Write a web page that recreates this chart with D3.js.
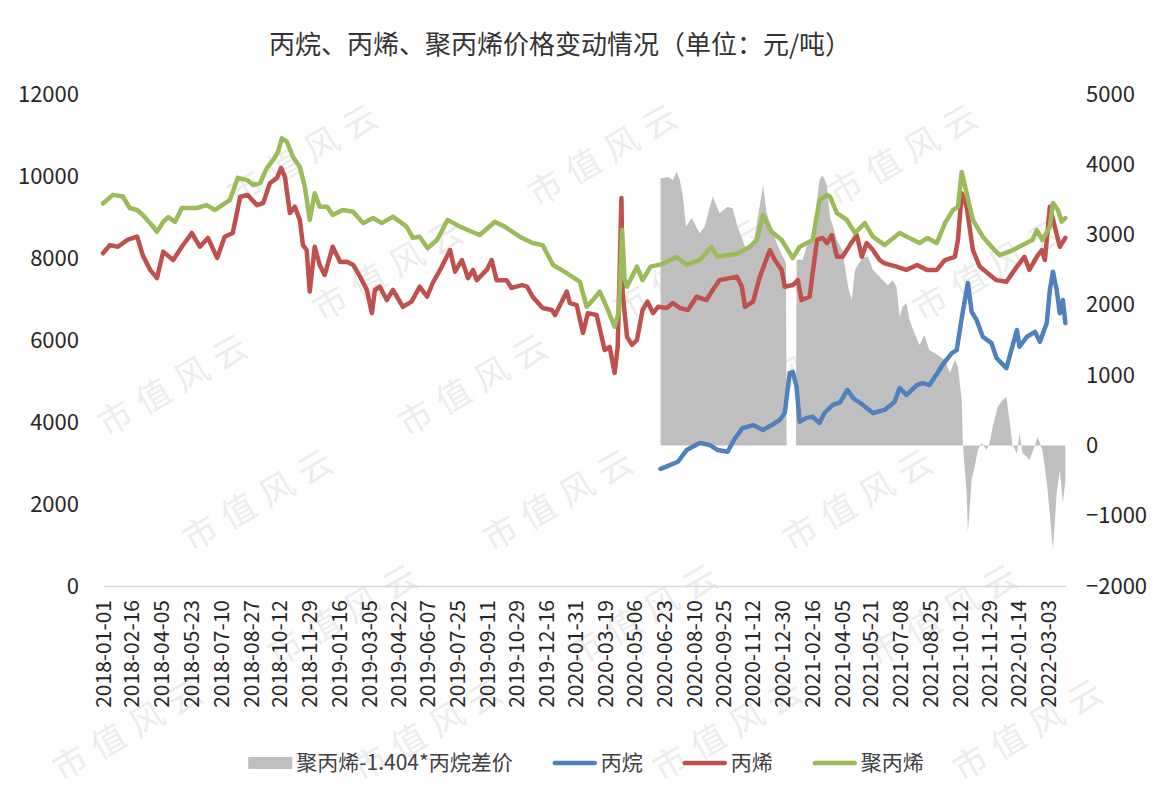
<!DOCTYPE html>
<html>
<head>
<meta charset="utf-8">
<script src="https://cdn.jsdelivr.net/npm/d3@7"></script>
<style>
body { margin: 0; background: #fff; }
text { font-family: "Noto Sans CJK SC", "Noto Sans", sans-serif; }
</style>
</head>
<body>
<svg id="chart" width="1166" height="798"></svg>
<script>
// x axis labels
var tickDates = ["2018-01-01","2018-02-16","2018-04-05","2018-05-23","2018-07-10","2018-08-27","2018-10-12","2018-11-29",
	"2019-01-16","2019-03-05","2019-04-22","2019-06-07","2019-07-25","2019-09-11","2019-10-29","2019-12-16",
	"2020-01-31","2020-03-19","2020-05-06","2020-06-23","2020-08-10","2020-09-25","2020-11-12","2020-12-30",
	"2021-02-16","2021-04-05","2021-05-21","2021-07-08","2021-08-25","2021-10-12","2021-11-29",
	"2022-01-14","2022-03-03"];

// 丙烷 (left axis)
var propane = [["2020-06-17",2855],["2020-07-02",2950],["2020-07-15",3030],["2020-07-29",3315],["2020-08-19",3490],
	["2020-09-04",3440],["2020-09-17",3315],["2020-10-03",3275],["2020-10-15",3610],["2020-10-27",3850],["2020-11-13",3925],
	["2020-11-29",3805],["2020-12-13",3925],["2020-12-26",4050],["2021-01-03",4220],["2021-01-11",5195],["2021-01-16",5225],
	["2021-01-22",4860],["2021-01-27",4005],["2021-02-07",4100],["2021-02-17",4125],["2021-02-28",3975],["2021-03-08",4220],
	["2021-03-21",4415],["2021-04-02",4480],["2021-04-14",4780],["2021-04-23",4585],["2021-05-09",4415],["2021-05-25",4220],
	["2021-06-13",4295],["2021-06-29",4495],["2021-07-07",4830],["2021-07-18",4660],["2021-08-04",4900],["2021-08-13",4950],
	["2021-08-24",4900],["2021-09-05",5170],["2021-09-14",5390],["2021-09-29",5680],["2021-10-07",5755],["2021-10-15",6535],
	["2021-10-25",7390],["2021-10-31",6690],["2021-11-08",6490],["2021-11-18",6080],["2021-12-02",5925],["2021-12-10",5560],
	["2021-12-26",5315],["2022-01-03",5755],["2022-01-12",6245],["2022-01-16",5835],["2022-01-28",6080],["2022-02-10",6200],
	["2022-02-18",5960],["2022-03-01",6415],["2022-03-06",7220],["2022-03-11",7665],["2022-03-17",7220],["2022-03-22",6655],
	["2022-03-27",6975],["2022-03-31",6415]];

// 丙烯 (left axis)
var propylene = [["2018-01-01",8115],["2018-01-12",8315],["2018-01-25",8275],["2018-02-09",8440],["2018-02-25",8520],
	["2018-03-06",8070],["2018-03-18",7710],["2018-03-29",7510],["2018-04-08",8155],["2018-04-24",7950],["2018-05-08",8275],
	["2018-05-24",8610],["2018-06-06",8275],["2018-06-19",8490],["2018-07-04",8000],["2018-07-16",8520],["2018-07-29",8610],
	["2018-08-10",9495],["2018-08-22",9536],["2018-09-06",9290],["2018-09-16",9340],["2018-09-27",9830],["2018-10-08",9950],
	["2018-10-15",10195],["2018-10-21",9980],["2018-10-29",9095],["2018-11-06",9250],["2018-11-14",8930],["2018-11-19",8315],
	["2018-11-25",8195],["2018-11-30",7180],["2018-12-08",8275],["2018-12-16",7830],["2018-12-24",7585],["2019-01-06",8275],
	["2019-01-18",7900],["2019-01-29",7910],["2019-02-08",7830],["2019-02-19",7545],["2019-03-02",7220],["2019-03-10",6655],
	["2019-03-15",7220],["2019-03-23",7300],["2019-04-03",6975],["2019-04-13",7220],["2019-04-29",6810],["2019-05-13",6935],
	["2019-05-26",7300],["2019-06-07",7055],["2019-06-16",7390],["2019-06-28",7710],["2019-07-14",8195],["2019-07-22",7665],
	["2019-08-02",7950],["2019-08-12",7510],["2019-08-20",7710],["2019-08-26",7460],["2019-09-11",7710],["2019-09-19",7950],
	["2019-09-27",7460],["2019-10-13",7460],["2019-10-21",7270],["2019-11-07",7340],["2019-11-15",7300],["2019-11-24",7055],
	["2019-12-10",6780],["2019-12-25",6730],["2019-12-30",6610],["2020-01-07",6850],["2020-01-18",7180],["2020-01-23",6900],
	["2020-02-03",6850],["2020-02-13",6170],["2020-02-21",6655],["2020-03-06",6610],["2020-03-19",5755],["2020-03-27",5835],
	["2020-04-04",5195],["2020-04-09",5835],["2020-04-15",9465],["2020-04-17",7140],["2020-04-24",6080],["2020-05-02",5880],
	["2020-05-10",6000],["2020-05-19",6730],["2020-05-27",6935],["2020-06-05",6655],["2020-06-13",6810],["2020-06-27",6780],
	["2020-07-07",6900],["2020-07-18",6780],["2020-07-31",6730],["2020-08-14",7055],["2020-08-30",6975],["2020-09-09",7220],
	["2020-09-20",7460],["2020-10-18",7545],["2020-10-26",7300],["2020-10-31",6810],["2020-11-13",6935],["2020-11-24",7545],
	["2020-12-10",8195],["2020-12-18",7950],["2020-12-29",7710],["2021-01-03",7300],["2021-01-16",7340],["2021-01-24",7460],
	["2021-01-30",6975],["2021-02-12",7055],["2021-02-24",8440],["2021-03-05",8490],["2021-03-12",8365],["2021-03-20",8560],
	["2021-03-28",8030],["2021-04-06",8030],["2021-04-18",8315],["2021-04-29",8560],["2021-05-07",8030],["2021-05-15",8365],
	["2021-05-25",8195],["2021-06-05",7950],["2021-06-13",7870],["2021-07-02",7790],["2021-07-18",7710],["2021-08-04",7830],
	["2021-08-20",7710],["2021-09-05",7710],["2021-09-18",7950],["2021-10-04",8030],["2021-10-09",8440],["2021-10-15",9580],
	["2021-10-23",9250],["2021-11-02",8195],["2021-11-13",7790],["2021-11-26",7630],["2021-12-10",7460],["2021-12-26",7420],
	["2022-01-12",7790],["2022-01-24",8030],["2022-02-01",7710],["2022-02-13",8030],["2022-02-21",8195],["2022-02-26",7950],
	["2022-03-06",9250],["2022-03-12",8885],["2022-03-22",8275],["2022-03-31",8490]];

// 聚丙烯 (left axis)
var polypropylene = [["2018-01-01",9330],["2018-01-17",9540],["2018-02-02",9500],["2018-02-13",9220],["2018-02-25",9170],
	["2018-03-06",9050],["2018-03-18",8850],["2018-03-29",8640],["2018-04-08",8880],["2018-04-16",9000],["2018-04-27",8880],
	["2018-05-08",9220],["2018-06-01",9220],["2018-06-17",9290],["2018-06-30",9170],["2018-07-12",9290],["2018-07-24",9410],
	["2018-08-06",9950],["2018-08-21",9900],["2018-08-31",9780],["2018-09-11",9830],["2018-09-22",10200],["2018-10-02",10390],
	["2018-10-10",10590],["2018-10-16",10920],["2018-10-24",10840],["2018-11-03",10470],["2018-11-14",10220],["2018-11-22",9740],
	["2018-11-30",8930],["2018-12-08",9580],["2018-12-16",9250],["2018-12-28",9250],["2019-01-06",9050],["2019-01-22",9170],
	["2019-02-08",9130],["2019-02-24",8850],["2019-03-12",8975],["2019-03-26",8850],["2019-04-13",9010],["2019-05-05",8765],
	["2019-05-15",8490],["2019-05-26",8520],["2019-06-08",8240],["2019-06-23",8440],["2019-07-10",8930],["2019-07-30",8765],
	["2019-08-18",8640],["2019-08-31",8560],["2019-09-24",8885],["2019-10-10",8765],["2019-11-03",8520],["2019-11-24",8365],
	["2019-12-10",8315],["2019-12-27",7830],["2020-01-18",7630],["2020-02-08",7420],["2020-02-19",6810],["2020-02-29",6975],
	["2020-03-11",7180],["2020-03-22",6810],["2020-04-04",6325],["2020-04-11",6700],["2020-04-16",8680],["2020-04-20",7500],
	["2020-04-24",7300],["2020-05-10",7790],["2020-05-19",7460],["2020-06-01",7790],["2020-06-19",7850],["2020-07-13",8030],
	["2020-07-29",7830],["2020-08-19",7950],["2020-09-07",8275],["2020-09-16",8030],["2020-10-18",8100],["2020-11-08",8275],
	["2020-11-19",8440],["2020-11-29",9050],["2020-12-13",8640],["2020-12-29",8440],["2021-01-16",8000],["2021-01-27",8275],
	["2021-02-17",8440],["2021-02-28",9410],["2021-03-12",9536],["2021-03-17",9495],["2021-03-28",9095],["2021-04-13",8930],
	["2021-04-26",8610],["2021-05-12",8850],["2021-05-25",8520],["2021-06-13",8315],["2021-07-07",8610],["2021-07-23",8490],
	["2021-08-08",8365],["2021-08-21",8490],["2021-09-05",8365],["2021-09-18",8850],["2021-10-01",9170],["2021-10-09",9250],
	["2021-10-15",10100],["2021-10-23",9580],["2021-11-02",8930],["2021-11-18",8520],["2021-12-04",8240],["2021-12-15",8070],
	["2021-12-31",8155],["2022-01-21",8315],["2022-02-06",8440],["2022-02-13",8680],["2022-02-22",8440],["2022-03-06",8765],
	["2022-03-11",9340],["2022-03-19",9170],["2022-03-25",8885],["2022-03-31",8975]];

// 聚丙烯-1.404*丙烷差价 (right axis)
var spread = [["2020-06-17",3800],["2020-06-29",3820],["2020-07-07",3775],["2020-07-13",3895],["2020-07-18",3775],
	["2020-07-23",3540],["2020-07-28",3110],["2020-08-06",3235],["2020-08-19",3020],["2020-08-27",3110],["2020-09-09",3540],
	["2020-09-20",3305],["2020-10-03",3395],["2020-10-11",3375],["2020-10-19",3110],["2020-10-31",2825],["2020-11-13",2825],
	["2020-11-29",3700],["2020-12-05",3305],["2020-12-21",2880],["2020-12-31",2685],["2021-01-05",2600],["2021-01-06",0],
	["2021-01-21",0],["2021-01-22",2640],["2021-02-01",2640],["2021-02-07",2825],["2021-02-17",2970],["2021-02-28",3775],
	["2021-03-05",3845],["2021-03-12",3700],["2021-03-17",3235],["2021-03-22",3110],["2021-03-28",2920],["2021-04-06",2780],
	["2021-04-15",2255],["2021-04-21",2070],["2021-04-26",2495],["2021-05-09",2685],["2021-05-17",2685],["2021-05-25",2495],
	["2021-06-05",2400],["2021-06-18",2280],["2021-06-26",2350],["2021-07-02",2255],["2021-07-07",1830],["2021-07-12",1975],
	["2021-07-18",2025],["2021-07-23",1785],["2021-07-31",1600],["2021-08-08",1430],["2021-08-16",1570],["2021-08-24",1355],
	["2021-09-02",1310],["2021-09-10",1260],["2021-09-18",1215],["2021-09-26",1030],["2021-10-04",1215],["2021-10-09",1120],
	["2021-10-15",645],["2021-10-17",0],["2021-10-23",-680],["2021-10-25",-1250],["2021-10-31",-490],["2021-11-05",-300],
	["2021-11-10",-65],["2021-11-16",35],["2021-11-24",-65],["2021-11-29",35],["2021-12-04",265],["2021-12-12",550],
	["2021-12-20",645],["2021-12-26",690],["2021-12-31",360],["2022-01-05",0],["2022-01-12",-110],["2022-01-16",175],
	["2022-01-21",-110],["2022-01-28",-160],["2022-02-01",-210],["2022-02-10",0],["2022-02-14",125],["2022-02-22",-65],
	["2022-03-02",-590],["2022-03-11",-1480],["2022-03-17",-680],["2022-03-22",-350],["2022-03-27",-820],["2022-03-31",-500]];

var leftTicks = [0, 2000, 4000, 6000, 8000, 10000, 12000];
var rightTicks = [-2000, -1000, 0, 1000, 2000, 3000, 4000, 5000];

// margins
var margin = { top: 94, right: 100, bottom: 212, left: 103 },
		width = 1166 - margin.left - margin.right,
		height = 798 - margin.top - margin.bottom;

var parse = d3.utcParse("%Y-%m-%d");
function rows(arr){ return arr.map(function(d){ return { date: parse(d[0]), v: d[1] }; }); }

var xScale = d3.scaleUtc().domain([parse("2018-01-01"), parse("2022-04-01")]).range([0, width]);
var yLeft = d3.scaleLinear().domain([0, 12000]).range([height, 0]);
var yRight = d3.scaleLinear().domain([-2000, 5000]).range([height, 0]);

var svg = d3.select("#chart");
svg.append("rect").attr("width", 1166).attr("height", 798).attr("fill", "#fff");

// watermark (under the marks, very faint)
var marks = svg.append("g").attr("pointer-events", "none");
for (var j = -3; j < 8; j++) {
	for (var i = -2; i < 6; i++) {
		var wx = 177 + 300 * i + 85 * j, wy = 383 + 115 * j;
		if (wx < 95 || wx > 1070 || wy < 60 || wy > 740) continue;
		marks.append("text").attr("transform", "translate(" + wx + "," + wy + ") rotate(-30)")
				.attr("text-anchor", "middle").attr("dy", "0.35em").style("font-size", "34px").style("letter-spacing", "10px")
				.attr("fill", "#ececec").text("市值风云");
	}
}

// title
svg.append("text").attr("x", 560).attr("y", 54).attr("text-anchor", "middle")
		.style("font-size", "26px").attr("fill", "#333")
		.text("丙烷、丙烯、聚丙烯价格变动情况（单位：元/吨）");

var g = svg.append("g").attr("transform", "translate(" + margin.left + "," + margin.top + ")");

// spread area on the right axis
var area = d3.area().x(function(d){ return xScale(d.date); }).y0(yRight(0)).y1(function(d){ return yRight(d.v); });
g.append("path").attr("d", area(rows(spread))).attr("fill", "#BFBFBF");

// bottom axis
var xAxis = d3.axisBottom(xScale).tickValues(tickDates.map(parse)).tickFormat(d3.utcFormat("%Y-%m-%d")).tickSize(0).tickSizeOuter(0);
var gx = g.append("g").attr("transform", "translate(0," + height + ")").call(xAxis);
gx.select(".domain").attr("stroke", "#D9D9D9").attr("stroke-width", 1.5);
gx.selectAll("text").attr("transform", "rotate(-90)").attr("x", -14).attr("y", 0).attr("dy", "0.35em")
		.style("text-anchor", "end").style("font-size", "21px").attr("fill", "#262626");

// left axis
var gl = g.append("g").call(d3.axisLeft(yLeft).tickValues(leftTicks).tickFormat(d3.format("d")).tickSize(0).tickPadding(24));
gl.select(".domain").remove();
gl.selectAll("text").style("font-size", "22px").attr("fill", "#262626");

// right axis
var gr = g.append("g").attr("transform", "translate(" + width + ",0)")
		.call(d3.axisRight(yRight).tickValues(rightTicks).tickFormat(d3.format("d")).tickSize(0).tickPadding(20));
gr.select(".domain").remove();
gr.selectAll("text").style("font-size", "22px").attr("fill", "#262626");

// lines
var line = d3.line().x(function(d){ return xScale(d.date); }).y(function(d){ return yLeft(d.v); });
var series = [
	{ name: "丙烷", data: propane, color: "#4F81BD" },
	{ name: "丙烯", data: propylene, color: "#C0504D" },
	{ name: "聚丙烯", data: polypropylene, color: "#9BBB59" }
];
series.forEach(function(s){
	g.append("path").attr("d", line(rows(s.data))).attr("fill", "none").attr("stroke", s.color)
			.attr("stroke-width", 4.5).attr("stroke-linejoin", "round").attr("stroke-linecap", "round");
});

// legend
var legend = svg.append("g");
var legendItems = [{ name: "聚丙烯-1.404*丙烷差价", color: "#BFBFBF", area: true }].concat(series);
var lx = 0, ly = 763;
legendItems.forEach(function(s){
	var item = legend.append("g").attr("transform", "translate(" + lx + ",0)");
	if (s.area) {
		item.append("rect").attr("x", 0).attr("y", ly - 6).attr("width", 44).attr("height", 12).attr("fill", s.color);
	} else {
		item.append("line").attr("x1", 2).attr("x2", 42).attr("y1", ly).attr("y2", ly).attr("stroke", s.color)
				.attr("stroke-width", 4.5).attr("stroke-linecap", "round");
	}
	var t = item.append("text").attr("x", 48).attr("y", ly).attr("dy", "0.35em").style("font-size", "21px").attr("fill", "#404040").text(s.name);
	lx += 48 + t.node().getComputedTextLength() + 40;
});
lx -= 40;
legend.attr("transform", "translate(" + (586 - lx / 2) + ",0)");
</script>
</body>
</html>
